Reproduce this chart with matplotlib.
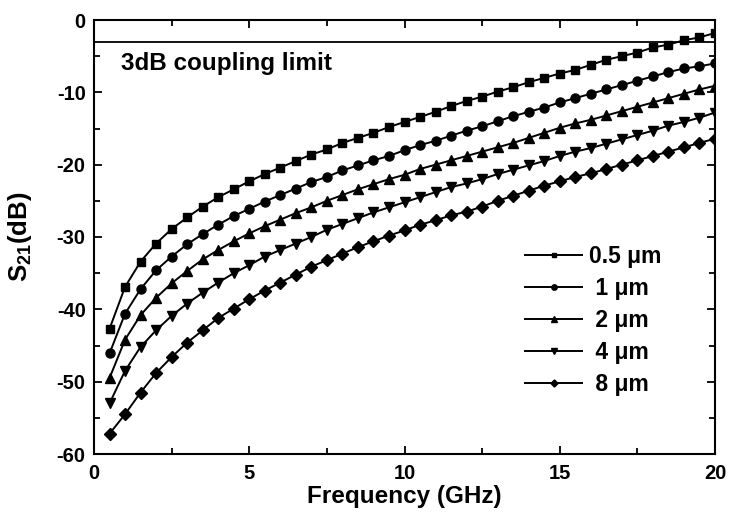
import matplotlib
matplotlib.use("Agg")
import matplotlib.pyplot as plt
import numpy as np
from matplotlib.ticker import MultipleLocator

plt.rcParams['font.family'] = ['Liberation Sans', 'DejaVu Sans']
plt.rcParams['font.weight'] = 'bold'
plt.rcParams['axes.unicode_minus'] = False
plt.rcParams['mathtext.fontset'] = 'custom'
plt.rcParams['mathtext.rm'] = 'Liberation Sans:bold'
plt.rcParams['mathtext.bf'] = 'Liberation Sans:bold'

freq = [0.5, 1.0, 1.5, 2.0, 2.5, 3.0, 3.5, 4.0, 4.5, 5.0,
        5.5, 6.0, 6.5, 7.0, 7.5, 8.0, 8.5, 9.0, 9.5, 10.0,
        10.5, 11.0, 11.5, 12.0, 12.5, 13.0, 13.5, 14.0, 14.5, 15.0,
        15.5, 16.0, 16.5, 17.0, 17.5, 18.0, 18.5, 19.0, 19.5, 20.0]

s21_05um = [-42.7, -36.9, -33.4, -30.9, -28.9, -27.3, -25.8, -24.5,
            -23.4, -22.3, -21.3, -20.4, -19.5, -18.6, -17.9,
            -17.0, -16.3, -15.6, -14.8, -14.1, -13.4, -12.7, -11.9,
            -11.2, -10.6, -9.9, -9.3, -8.6, -8.0, -7.4, -6.9,
            -6.2, -5.5, -5.0, -4.5, -3.8, -3.4, -2.8, -2.4, -1.8]
s21_1um = [-46.1, -40.6, -37.2, -34.6, -32.7, -31.0, -29.6, -28.3,
           -27.1, -26.1, -25.1, -24.2, -23.3, -22.4, -21.7,
           -20.8, -20.1, -19.4, -18.8, -18.0, -17.3, -16.7, -16.0,
           -15.3, -14.7, -14.0, -13.3, -12.7, -12.1, -11.4, -10.8,
           -10.2, -9.6, -9.0, -8.4, -7.8, -7.2, -6.7, -6.4, -6.0]
s21_2um = [-49.5, -44.2, -40.8, -38.4, -36.4, -34.7, -33.1, -31.8,
           -30.6, -29.5, -28.5, -27.6, -26.7, -25.9, -25.0,
           -24.2, -23.4, -22.7, -22.0, -21.4, -20.6, -20.0, -19.4,
           -18.8, -18.2, -17.6, -17.0, -16.3, -15.6, -14.9, -14.3,
           -13.8, -13.2, -12.6, -12.0, -11.4, -10.8, -10.2, -9.6, -9.1]
s21_4um = [-53.0, -48.5, -45.2, -42.9, -40.9, -39.2, -37.7, -36.3,
           -35.0, -33.9, -32.7, -31.8, -30.9, -30.0, -29.0,
           -28.2, -27.4, -26.6, -25.9, -25.2, -24.5, -23.8, -23.1,
           -22.6, -22.0, -21.3, -20.7, -20.1, -19.5, -18.8, -18.2,
           -17.7, -17.1, -16.5, -15.9, -15.3, -14.6, -14.1, -13.5, -12.8]
s21_8um = [-57.2, -54.5, -51.5, -48.8, -46.6, -44.6, -42.9, -41.2,
           -39.9, -38.6, -37.4, -36.3, -35.2, -34.1, -33.2,
           -32.3, -31.4, -30.6, -29.8, -29.1, -28.3, -27.7, -27.0,
           -26.5, -25.8, -25.0, -24.3, -23.6, -22.9, -22.3, -21.7,
           -21.2, -20.6, -20.0, -19.4, -18.8, -18.2, -17.6, -17.0, -16.4]

labels = ["0.5 \u03bcm", " 1 \u03bcm", " 2 \u03bcm", " 4 \u03bcm", " 8 \u03bcm"]
series = [s21_05um, s21_1um, s21_2um, s21_4um, s21_8um]
markers = ['s', 'o', '^', 'v', 'D']
msizes = [6, 6.5, 7.5, 7.5, 6]

limit_db = -3
limit_text = "3dB coupling limit"

fig = plt.figure(figsize=(7.33, 5.18), dpi=100)
ax = fig.add_axes([94/733, 1 - 454/518, (715 - 94)/733, (454 - 20)/518])

ax.axhline(limit_db, color='black', lw=1.3)
for y, lab, m, ms in zip(series, labels, markers, msizes):
    ax.plot(freq, y, color='black', lw=1.4, marker=m, ms=ms, label=lab)

ax.text(0.86, -6.9, limit_text, fontsize=17.5, fontweight='bold',
        va='baseline', ha='left')

ax.set_xlim(0, 20)
ax.set_ylim(-60, 0)
ax.xaxis.set_major_locator(MultipleLocator(5))
ax.xaxis.set_minor_locator(MultipleLocator(2.5))
ax.yaxis.set_major_locator(MultipleLocator(10))
ax.yaxis.set_minor_locator(MultipleLocator(5))
ax.tick_params(which='both', direction='in', top=True, right=True, width=1.3,
               labelsize=14.5)
ax.tick_params(which='major', length=6)
ax.tick_params(which='minor', length=4)
ax.tick_params(axis='x', which='major', pad=7)
ax.tick_params(axis='y', which='major', pad=6)
for lab in ax.get_xticklabels() + ax.get_yticklabels():
    lab.set_fontweight('bold')
for sp in ax.spines.values():
    sp.set_linewidth(1.5)

ax.set_xlabel("Frequency (GHz)", fontsize=17.5, fontweight='bold')
ax.set_ylabel("S$_{\\mathbf{21}}$(dB)", fontsize=18.5, fontweight='bold')
ax.xaxis.set_label_coords(0.5, -0.072)
ax.yaxis.set_label_coords(-0.097, 0.5)

leg = ax.legend(loc='upper left', bbox_to_anchor=(0.694, 0.482), frameon=False,
                fontsize=16.5, markerscale=0.6, handlelength=2.5,
                labelspacing=0.4, handletextpad=0.3, borderpad=0,
                borderaxespad=0)

fig.savefig("out.png", dpi=100)
